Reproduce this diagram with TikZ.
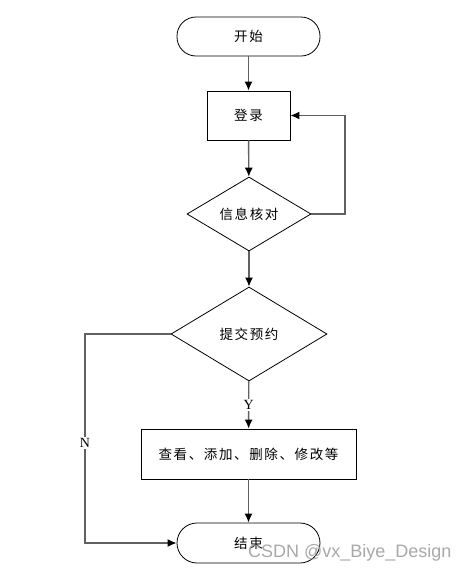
\documentclass[tikz,border=0pt]{standalone}
\usepackage{fontspec}
\setmainfont{Liberation Serif}
\newfontfamily\cjk[LetterSpace=12]{Noto Sans CJK SC}
\newfontfamily\wmfont{Liberation Sans}
\usetikzlibrary{shapes.geometric,arrows.meta}
\tikzset{
  base/.style={draw=black, line width=0.8pt, inner sep=0pt, font=\cjk\fontsize{13.5}{16}\selectfont},
  term/.style={base, rectangle, rounded corners=19pt, minimum width=143pt, minimum height=39pt},
  proc/.style={base, rectangle},
  deci/.style={base, diamond},
  conn/.style={draw=black!62, line width=1.4pt, -{Latex[length=9pt,width=8pt,black]}},
  lbl/.style={fill=white, inner sep=1.5pt, font=\fontsize{14}{16}\selectfont}
}
\begin{document}
\begin{tikzpicture}[x=1pt,y=-1pt]
\useasboundingbox (0,0) rectangle (469,574);
\node[term] (start) at (248.5,36.5) {开始};
\node[proc, minimum width=83pt, minimum height=49pt] (login) at (248.5,115.5) {登录};
\node[deci, minimum width=124pt, minimum height=74pt, aspect=1.68] (check) at (249,214) {信息核对};
\node[deci, minimum width=156pt, minimum height=94pt, aspect=1.66] (submit) at (249,334) {提交预约};
\node[proc, minimum width=215pt, minimum height=50pt] (ops) at (248.5,454) {查看、添加、删除、修改等};
\node[term, minimum height=40pt, rounded corners=20pt] (end) at (248.5,543) {结束};
\coordinate (loopA) at (345,214);
\coordinate (loopB) at (345,115.5);
\coordinate (nA) at (85,334);
\coordinate (nB) at (85,543);
\draw[conn] (start) -- (login);
\draw[conn] (login) -- (check);
\draw[conn] (check.east) -- (loopA) -- (loopB) -- (login.east);
\draw[conn] (check) -- (submit);
\draw[conn] (submit) -- node[lbl, pos=0.5] (ylab) {Y} (ops);
\draw[conn] (submit.west) -- (nA) -- node[lbl, pos=0.52] (nlab) {N} (nB) -- (end.west);
\draw[conn] (ops) -- (end);
\node[anchor=west, text=black!40, opacity=0.85, font=\wmfont\fontsize{18}{20}\selectfont, inner sep=0pt] (wm) at (248,553) {CSDN @vx\_Biye\_Design};
\end{tikzpicture}
\end{document}
